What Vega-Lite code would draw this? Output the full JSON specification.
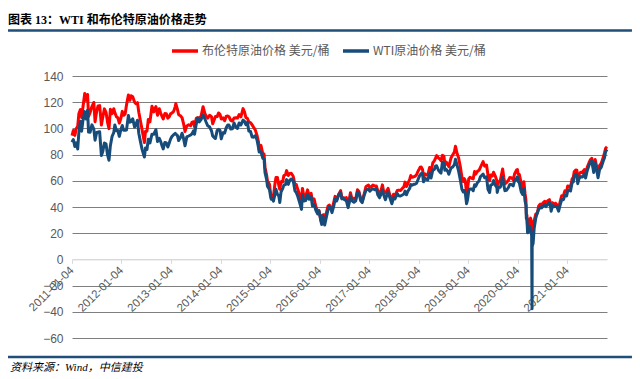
{
"$schema": "https://vega.github.io/schema/vega-lite/v6.json",
"autosize": "none",
"padding": {"left": 72, "top": 76, "right": 33, "bottom": 41},
"width": 535, "height": 262,
"config": {"view": {"stroke": null}, "font": "Liberation Sans", "axis": {"labelOverlap": false}},
"title": {"text": "图表 13：WTI 和布伦特原油价格走势", "anchor": "start", "frame": "group", "dx": -64, "fontSize": 12, "fontWeight": "bold", "font": "Liberation Serif, Noto Sans CJK SC", "color": "#000000", "offset": 2},
"layer": [
 {
  "data": {"values": [
{"d":"2011-01-04","b":94.5,"w":89.4},{"d":"2011-01-14","b":98.4,"w":91.5},{"d":"2011-01-25","b":94.7,"w":86.2},{"d":"2011-02-04","b":99.7,"w":89.0},{"d":"2011-02-15","b":101.6,"w":84.3},{"d":"2011-02-24","b":111.4,"w":97.3},{"d":"2011-03-07","b":114.4,"w":105.4},{"d":"2011-03-16","b":108.4,"w":97.9},{"d":"2011-03-25","b":115.6,"w":105.4},{"d":"2011-04-08","b":126.6,"w":112.8},{"d":"2011-04-18","b":121.6,"w":107.1},{"d":"2011-04-29","b":125.9,"w":113.9},{"d":"2011-05-06","b":109.1,"w":97.2},{"d":"2011-05-17","b":111.9,"w":97.0},{"d":"2011-05-31","b":116.7,"w":102.7},{"d":"2011-06-14","b":119.8,"w":99.4},{"d":"2011-06-23","b":105.1,"w":91.0},{"d":"2011-07-05","b":113.0,"w":96.9},{"d":"2011-07-15","b":117.2,"w":97.2},{"d":"2011-07-27","b":117.4,"w":97.4},{"d":"2011-08-09","b":102.6,"w":79.3},{"d":"2011-08-19","b":108.6,"w":82.3},{"d":"2011-08-31","b":114.9,"w":88.8},{"d":"2011-09-12","b":112.3,"w":88.2},{"d":"2011-09-23","b":104.8,"w":79.9},{"d":"2011-10-04","b":99.8,"w":75.7},{"d":"2011-10-14","b":114.6,"w":86.8},{"d":"2011-10-27","b":111.3,"w":94.0},{"d":"2011-11-08","b":115.0,"w":96.8},{"d":"2011-11-16","b":112.0,"w":102.6},{"d":"2011-11-28","b":108.9,"w":98.2},{"d":"2011-12-08","b":108.2,"w":98.3},{"d":"2011-12-19","b":104.0,"w":93.9},{"d":"2011-12-30","b":107.4,"w":98.8},
{"d":"2012-01-10","b":113.0,"w":102.2},{"d":"2012-01-20","b":110.0,"w":98.5},{"d":"2012-01-31","b":110.9,"w":98.5},{"d":"2012-02-10","b":117.9,"w":98.7},{"d":"2012-02-24","b":125.5,"w":109.8},{"d":"2012-03-06","b":121.5,"w":104.7},{"d":"2012-03-15","b":124.9,"w":105.1},{"d":"2012-03-27","b":124.1,"w":107.3},{"d":"2012-04-10","b":119.9,"w":101.0},{"d":"2012-04-20","b":118.8,"w":103.1},{"d":"2012-05-01","b":119.7,"w":106.2},{"d":"2012-05-11","b":112.3,"w":96.1},{"d":"2012-05-23","b":105.6,"w":89.9},{"d":"2012-06-04","b":98.9,"w":84.0},{"d":"2012-06-21","b":89.2,"w":78.2},{"d":"2012-06-29","b":97.8,"w":85.0},{"d":"2012-07-10","b":97.9,"w":83.9},{"d":"2012-07-20","b":106.8,"w":91.8},{"d":"2012-08-01","b":105.0,"w":88.9},{"d":"2012-08-16","b":116.9,"w":95.6},{"d":"2012-08-29","b":112.6,"w":95.5},{"d":"2012-09-14","b":116.7,"w":99.0},{"d":"2012-09-26","b":110.0,"w":90.0},{"d":"2012-10-09","b":115.0,"w":92.4},{"d":"2012-10-19","b":111.7,"w":90.1},{"d":"2012-10-31","b":108.7,"w":86.2},{"d":"2012-11-07","b":107.2,"w":84.4},{"d":"2012-11-19","b":111.3,"w":89.3},{"d":"2012-11-30","b":111.2,"w":88.9},{"d":"2012-12-11","b":107.8,"w":85.8},{"d":"2012-12-21","b":108.9,"w":88.7},{"d":"2012-12-31","b":111.1,"w":91.8},
{"d":"2013-01-10","b":111.7,"w":93.8},{"d":"2013-01-23","b":113.0,"w":95.2},{"d":"2013-02-04","b":116.8,"w":96.2},{"d":"2013-02-08","b":118.9,"w":95.7},{"d":"2013-02-20","b":114.5,"w":94.5},{"d":"2013-03-01","b":110.4,"w":90.7},{"d":"2013-03-14","b":109.6,"w":93.0},{"d":"2013-03-26","b":108.2,"w":96.3},{"d":"2013-04-05","b":104.1,"w":92.7},{"d":"2013-04-17","b":97.7,"w":86.7},{"d":"2013-04-30","b":101.9,"w":93.5},{"d":"2013-05-14","b":102.8,"w":94.2},{"d":"2013-05-28","b":102.0,"w":95.0},{"d":"2013-06-07","b":104.6,"w":95.8},{"d":"2013-06-19","b":105.1,"w":98.2},{"d":"2013-06-26","b":101.3,"w":95.5},{"d":"2013-07-09","b":107.8,"w":103.5},{"d":"2013-07-19","b":108.1,"w":108.0},{"d":"2013-07-31","b":107.7,"w":105.0},{"d":"2013-08-13","b":109.3,"w":106.8},{"d":"2013-08-28","b":116.6,"w":110.1},{"d":"2013-09-10","b":111.5,"w":107.4},{"d":"2013-09-20","b":109.2,"w":104.7},{"d":"2013-10-01","b":107.9,"w":102.0},{"d":"2013-10-15","b":110.0,"w":101.2},{"d":"2013-10-29","b":109.0,"w":98.2},{"d":"2013-11-07","b":103.5,"w":94.2},{"d":"2013-11-19","b":106.9,"w":93.0},{"d":"2013-11-27","b":109.0,"w":92.3},{"d":"2013-12-10","b":109.0,"w":98.5},{"d":"2013-12-20","b":111.8,"w":99.3},{"d":"2013-12-31","b":110.8,"w":98.4},
{"d":"2014-01-09","b":107.2,"w":92.0},{"d":"2014-01-22","b":108.0,"w":96.7},{"d":"2014-02-03","b":105.8,"w":96.4},{"d":"2014-02-14","b":109.1,"w":100.3},{"d":"2014-02-26","b":109.5,"w":102.6},{"d":"2014-03-07","b":108.9,"w":102.6},{"d":"2014-03-20","b":106.2,"w":99.5},{"d":"2014-04-01","b":105.6,"w":99.7},{"d":"2014-04-14","b":107.9,"w":104.1},{"d":"2014-04-28","b":108.1,"w":100.8},{"d":"2014-05-09","b":107.9,"w":100.0},{"d":"2014-05-21","b":110.5,"w":104.1},{"d":"2014-06-03","b":108.8,"w":102.7},{"d":"2014-06-19","b":115.1,"w":106.4},{"d":"2014-06-30","b":112.4,"w":105.4},{"d":"2014-07-10","b":108.2,"w":102.9},{"d":"2014-07-21","b":107.6,"w":104.6},{"d":"2014-08-01","b":104.8,"w":97.9},{"d":"2014-08-13","b":104.4,"w":97.6},{"d":"2014-08-25","b":102.7,"w":93.4},{"d":"2014-09-05","b":100.8,"w":93.3},{"d":"2014-09-17","b":98.9,"w":94.4},{"d":"2014-09-30","b":94.7,"w":91.2},{"d":"2014-10-10","b":90.2,"w":85.8},{"d":"2014-10-16","b":83.8,"w":82.0},{"d":"2014-10-29","b":87.1,"w":82.2},{"d":"2014-11-12","b":80.4,"w":77.2},{"d":"2014-11-21","b":80.4,"w":76.5},{"d":"2014-11-28","b":70.2,"w":66.2},{"d":"2014-12-10","b":64.2,"w":60.9},{"d":"2014-12-16","b":59.9,"w":55.9},{"d":"2014-12-31","b":57.3,"w":53.3},
{"d":"2015-01-07","b":51.2,"w":48.7},{"d":"2015-01-13","b":46.6,"w":45.9},{"d":"2015-01-20","b":48.0,"w":46.4},{"d":"2015-01-29","b":48.1,"w":44.5},{"d":"2015-02-10","b":58.3,"w":50.0},{"d":"2015-02-17","b":62.5,"w":53.5},{"d":"2015-02-27","b":62.6,"w":49.8},{"d":"2015-03-10","b":56.4,"w":48.3},{"d":"2015-03-17","b":53.5,"w":43.5},{"d":"2015-03-26","b":59.2,"w":51.4},{"d":"2015-04-07","b":59.1,"w":54.0},{"d":"2015-04-16","b":64.0,"w":56.7},{"d":"2015-04-28","b":64.6,"w":57.1},{"d":"2015-05-06","b":67.8,"w":60.9},{"d":"2015-05-19","b":64.0,"w":57.3},{"d":"2015-05-29","b":65.6,"w":60.3},{"d":"2015-06-10","b":65.7,"w":61.4},{"d":"2015-06-24","b":63.5,"w":60.3},{"d":"2015-07-07","b":56.9,"w":52.3},{"d":"2015-07-17","b":57.1,"w":50.9},{"d":"2015-07-28","b":53.3,"w":48.0},{"d":"2015-08-11","b":49.2,"w":43.1},{"d":"2015-08-24","b":42.7,"w":38.2},{"d":"2015-08-31","b":54.2,"w":49.2},{"d":"2015-09-11","b":48.1,"w":44.6},{"d":"2015-09-24","b":48.2,"w":44.9},{"d":"2015-10-08","b":53.1,"w":49.4},{"d":"2015-10-19","b":48.6,"w":45.9},{"d":"2015-11-03","b":50.5,"w":47.9},{"d":"2015-11-13","b":44.5,"w":40.7},{"d":"2015-11-25","b":46.2,"w":42.0},{"d":"2015-12-08","b":40.3,"w":37.5},{"d":"2015-12-21","b":36.4,"w":34.7},{"d":"2015-12-31","b":37.3,"w":37.0},
{"d":"2016-01-07","b":33.8,"w":33.3},{"d":"2016-01-12","b":30.9,"w":30.4},{"d":"2016-01-20","b":27.9,"w":26.6},{"d":"2016-01-28","b":33.9,"w":33.2},{"d":"2016-02-05","b":34.1,"w":30.9},{"d":"2016-02-11","b":30.1,"w":26.2},{"d":"2016-02-22","b":34.7,"w":31.5},{"d":"2016-03-07","b":40.8,"w":37.9},{"d":"2016-03-17","b":41.5,"w":40.2},{"d":"2016-03-29","b":38.3,"w":38.3},{"d":"2016-04-05","b":37.9,"w":35.7},{"d":"2016-04-19","b":43.9,"w":41.1},{"d":"2016-04-28","b":48.1,"w":46.0},{"d":"2016-05-10","b":45.5,"w":44.7},{"d":"2016-05-25","b":49.7,"w":49.6},{"d":"2016-06-08","b":52.5,"w":51.2},{"d":"2016-06-16","b":47.2,"w":46.2},{"d":"2016-06-27","b":47.2,"w":46.3},{"d":"2016-07-08","b":46.8,"w":45.4},{"d":"2016-07-20","b":47.2,"w":44.9},{"d":"2016-08-02","b":42.1,"w":39.5},{"d":"2016-08-11","b":46.0,"w":43.5},{"d":"2016-08-19","b":50.9,"w":48.5},{"d":"2016-08-31","b":46.0,"w":44.7},{"d":"2016-09-14","b":46.6,"w":43.6},{"d":"2016-09-27","b":46.0,"w":44.7},{"d":"2016-10-10","b":53.1,"w":51.4},{"d":"2016-10-21","b":51.8,"w":50.9},{"d":"2016-11-03","b":46.4,"w":44.7},{"d":"2016-11-14","b":44.4,"w":43.3},{"d":"2016-11-30","b":50.5,"w":49.4},{"d":"2016-12-12","b":55.7,"w":52.8},{"d":"2016-12-30","b":56.8,"w":53.7},
{"d":"2017-01-09","b":54.9,"w":52.0},{"d":"2017-01-20","b":55.5,"w":53.2},{"d":"2017-02-01","b":56.8,"w":53.9},{"d":"2017-02-14","b":56.0,"w":53.2},{"d":"2017-02-27","b":56.0,"w":54.1},{"d":"2017-03-09","b":52.2,"w":49.3},{"d":"2017-03-22","b":50.6,"w":47.0},{"d":"2017-04-03","b":53.1,"w":50.2},{"d":"2017-04-12","b":56.9,"w":53.1},{"d":"2017-04-21","b":52.0,"w":49.6},{"d":"2017-05-04","b":50.8,"w":45.5},{"d":"2017-05-11","b":51.8,"w":47.8},{"d":"2017-05-24","b":54.2,"w":51.4},{"d":"2017-06-05","b":49.5,"w":47.4},{"d":"2017-06-21","b":44.8,"w":42.5},{"d":"2017-07-03","b":49.7,"w":47.1},{"d":"2017-07-13","b":48.4,"w":46.1},{"d":"2017-07-31","b":52.7,"w":50.2},{"d":"2017-08-10","b":52.9,"w":48.6},{"d":"2017-08-23","b":52.6,"w":48.4},{"d":"2017-09-06","b":54.2,"w":49.2},{"d":"2017-09-18","b":55.5,"w":49.9},{"d":"2017-09-26","b":59.0,"w":52.1},{"d":"2017-10-06","b":55.6,"w":49.3},{"d":"2017-10-17","b":57.9,"w":52.0},{"d":"2017-10-31","b":61.4,"w":54.4},{"d":"2017-11-07","b":64.0,"w":57.2},{"d":"2017-11-17","b":62.7,"w":56.6},{"d":"2017-11-29","b":63.1,"w":57.3},{"d":"2017-12-08","b":63.4,"w":57.4},{"d":"2017-12-20","b":64.6,"w":58.1},{"d":"2017-12-29","b":66.9,"w":60.4},
{"d":"2018-01-10","b":69.2,"w":63.6},{"d":"2018-01-15","b":70.3,"w":64.3},{"d":"2018-01-24","b":70.5,"w":65.6},{"d":"2018-02-02","b":68.6,"w":65.5},{"d":"2018-02-09","b":62.8,"w":59.2},{"d":"2018-02-20","b":65.3,"w":61.9},{"d":"2018-03-02","b":64.4,"w":61.3},{"d":"2018-03-13","b":64.6,"w":60.7},{"d":"2018-03-26","b":70.1,"w":65.6},{"d":"2018-04-06","b":67.1,"w":62.1},{"d":"2018-04-19","b":73.8,"w":68.3},{"d":"2018-04-30","b":75.2,"w":68.6},{"d":"2018-05-10","b":77.5,"w":71.4},{"d":"2018-05-17","b":79.3,"w":71.5},{"d":"2018-05-30","b":77.5,"w":68.2},{"d":"2018-06-12","b":76.3,"w":66.4},{"d":"2018-06-18","b":75.3,"w":65.9},{"d":"2018-06-29","b":79.4,"w":74.2},{"d":"2018-07-10","b":78.9,"w":73.8},{"d":"2018-07-17","b":72.0,"w":68.1},{"d":"2018-07-27","b":74.3,"w":68.7},{"d":"2018-08-08","b":72.3,"w":66.9},{"d":"2018-08-15","b":70.8,"w":65.0},{"d":"2018-08-31","b":77.4,"w":69.8},{"d":"2018-09-12","b":79.7,"w":70.4},{"d":"2018-09-25","b":81.9,"w":72.3},{"d":"2018-10-03","b":86.3,"w":76.4},{"d":"2018-10-15","b":80.8,"w":71.8},{"d":"2018-10-26","b":77.6,"w":67.6},{"d":"2018-11-08","b":70.7,"w":60.7},{"d":"2018-11-20","b":62.5,"w":53.4},{"d":"2018-11-29","b":59.5,"w":51.5},{"d":"2018-12-07","b":61.7,"w":52.6},{"d":"2018-12-14","b":60.3,"w":51.2},{"d":"2018-12-24","b":50.5,"w":42.5},{"d":"2018-12-31","b":53.8,"w":45.4},
{"d":"2019-01-09","b":61.4,"w":52.4},{"d":"2019-01-18","b":62.7,"w":53.8},{"d":"2019-01-31","b":61.9,"w":53.8},{"d":"2019-02-11","b":61.5,"w":52.4},{"d":"2019-02-21","b":67.1,"w":57.0},{"d":"2019-03-01","b":65.1,"w":55.8},{"d":"2019-03-14","b":67.2,"w":58.6},{"d":"2019-03-26","b":68.0,"w":59.9},{"d":"2019-04-05","b":70.3,"w":63.1},{"d":"2019-04-25","b":74.6,"w":65.2},{"d":"2019-05-06","b":71.2,"w":62.3},{"d":"2019-05-20","b":72.0,"w":63.1},{"d":"2019-05-31","b":64.5,"w":53.5},{"d":"2019-06-12","b":60.0,"w":51.1},{"d":"2019-06-20","b":64.5,"w":56.7},{"d":"2019-07-03","b":63.8,"w":57.3},{"d":"2019-07-11","b":66.5,"w":60.2},{"d":"2019-07-23","b":63.8,"w":56.8},{"d":"2019-08-05","b":59.8,"w":54.7},{"d":"2019-08-07","b":56.2,"w":51.1},{"d":"2019-08-16","b":58.6,"w":54.9},{"d":"2019-08-30","b":60.4,"w":55.1},{"d":"2019-09-16","b":69.0,"w":62.9},{"d":"2019-09-25","b":62.4,"w":56.5},{"d":"2019-10-03","b":57.7,"w":52.5},{"d":"2019-10-15","b":58.7,"w":52.8},{"d":"2019-10-30","b":60.6,"w":55.1},{"d":"2019-11-08","b":62.5,"w":57.2},{"d":"2019-11-20","b":62.4,"w":57.1},{"d":"2019-12-03","b":60.8,"w":56.1},{"d":"2019-12-13","b":65.2,"w":60.1},{"d":"2019-12-27","b":68.2,"w":61.7},
{"d":"2020-01-03","b":68.6,"w":63.1},{"d":"2020-01-08","b":65.4,"w":59.6},{"d":"2020-01-17","b":64.9,"w":58.5},{"d":"2020-01-31","b":58.2,"w":51.6},{"d":"2020-02-10","b":53.3,"w":49.6},{"d":"2020-02-20","b":59.3,"w":53.8},{"d":"2020-02-28","b":50.5,"w":44.8},{"d":"2020-03-06","b":45.3,"w":41.3},{"d":"2020-03-09","b":34.4,"w":31.1},{"d":"2020-03-13","b":33.9,"w":31.7},{"d":"2020-03-18","b":24.9,"w":20.4},{"d":"2020-03-27","b":24.9,"w":21.5},{"d":"2020-04-02","b":29.9,"w":25.3},{"d":"2020-04-09","b":31.5,"w":22.8},{"d":"2020-04-17","b":28.1,"w":18.3},{"d":"2020-04-20","b":25.6,"w":-37.6},{"d":"2020-04-21","b":19.3,"w":10.0},{"d":"2020-04-28","b":20.5,"w":12.3},{"d":"2020-05-06","b":29.7,"w":24.0},{"d":"2020-05-18","b":34.8,"w":31.8},{"d":"2020-05-29","b":35.3,"w":35.5},{"d":"2020-06-08","b":40.8,"w":38.2},{"d":"2020-06-19","b":42.2,"w":39.8},{"d":"2020-06-30","b":41.2,"w":39.3},{"d":"2020-07-10","b":43.2,"w":40.6},{"d":"2020-07-22","b":44.3,"w":41.9},{"d":"2020-07-31","b":43.3,"w":40.3},{"d":"2020-08-14","b":44.8,"w":42.0},{"d":"2020-08-26","b":45.6,"w":43.4},{"d":"2020-09-04","b":42.7,"w":39.8},{"d":"2020-09-08","b":39.8,"w":36.8},{"d":"2020-09-18","b":43.2,"w":41.1},{"d":"2020-09-30","b":41.0,"w":40.2},{"d":"2020-10-09","b":42.9,"w":40.6},{"d":"2020-10-21","b":41.7,"w":40.0},{"d":"2020-11-02","b":39.0,"w":36.8},{"d":"2020-11-12","b":43.5,"w":41.1},{"d":"2020-11-25","b":48.6,"w":45.7},{"d":"2020-12-08","b":48.8,"w":45.6},{"d":"2020-12-18","b":52.3,"w":49.1},{"d":"2020-12-31","b":51.8,"w":48.5},
{"d":"2021-01-08","b":56.0,"w":52.2},{"d":"2021-01-19","b":55.9,"w":53.0},{"d":"2021-01-29","b":55.0,"w":52.2},{"d":"2021-02-09","b":61.1,"w":58.4},{"d":"2021-02-19","b":62.9,"w":59.2},{"d":"2021-02-25","b":66.9,"w":63.5},{"d":"2021-03-08","b":68.2,"w":65.1},{"d":"2021-03-17","b":68.0,"w":64.6},{"d":"2021-03-23","b":60.8,"w":57.8},{"d":"2021-04-01","b":64.9,"w":61.5},{"d":"2021-04-14","b":66.6,"w":63.2},{"d":"2021-04-27","b":66.4,"w":62.9},{"d":"2021-05-11","b":68.6,"w":65.3},{"d":"2021-05-20","b":65.1,"w":62.1},{"d":"2021-06-01","b":70.3,"w":67.7},{"d":"2021-06-15","b":74.0,"w":72.1},{"d":"2021-06-25","b":76.2,"w":74.1},{"d":"2021-07-05","b":77.2,"w":75.2},{"d":"2021-07-19","b":68.6,"w":66.4},{"d":"2021-07-30","b":76.3,"w":74.0},{"d":"2021-08-10","b":70.6,"w":68.3},{"d":"2021-08-20","b":65.2,"w":62.3},{"d":"2021-08-31","b":71.6,"w":68.5},{"d":"2021-09-13","b":73.5,"w":70.5},{"d":"2021-09-28","b":78.1,"w":75.3},{"d":"2021-10-06","b":81.1,"w":77.4},{"d":"2021-10-15","b":84.9,"w":82.3},{"d":"2021-10-25","b":86.0,"w":84.0}
  ]},
  "transform": [{"fold": ["b", "w"], "as": ["k", "v"]}],
  "mark": {"type": "line", "strokeWidth": 3, "strokeJoin": "round"},
  "encoding": {
   "x": {"field": "d", "type": "temporal",
     "scale": {"type": "utc", "domain": [{"year": 2011, "month": 1, "date": 4, "utc": true}, {"year": 2021, "month": 10, "date": 25, "utc": true}]},
     "axis": {"title": null, "format": "%Y-%m-%d",
       "values": [{"year": 2011, "month": 1, "date": 4, "utc": true},{"year": 2012, "month": 1, "date": 4, "utc": true},{"year": 2013, "month": 1, "date": 4, "utc": true},{"year": 2014, "month": 1, "date": 4, "utc": true},{"year": 2015, "month": 1, "date": 4, "utc": true},{"year": 2016, "month": 1, "date": 4, "utc": true},{"year": 2017, "month": 1, "date": 4, "utc": true},{"year": 2018, "month": 1, "date": 4, "utc": true},{"year": 2019, "month": 1, "date": 4, "utc": true},{"year": 2020, "month": 1, "date": 4, "utc": true},{"year": 2021, "month": 1, "date": 4, "utc": true}],
       "labelAngle": -45, "labelAlign": "right", "labelBaseline": "middle", "labelPadding": 5, "tickSize": 4,
       "tickColor": "#D9D9D9", "domainColor": "#D9D9D9", "offset": -78.6, "grid": false,
       "labelColor": "#595959", "labelFontSize": 11.5, "labelFont": "Liberation Sans",
       "labelOverlap": false, "labelFlush": false, "labelBound": false}},
   "y": {"field": "v", "type": "quantitative",
     "scale": {"domain": [-60, 140], "nice": false, "zero": false},
     "axis": {"title": null, "values": [-60, -40, -20, 0, 20, 40, 60, 80, 100, 120, 140],
       "grid": true, "gridColor": {"condition": {"test": "datum.value === 0", "value": "#D9D9D9"}, "value": "#7F7F7F"},
       "domain": false, "ticks": false, "labelPadding": 9, "labelColor": "#595959",
       "labelFontSize": 12, "labelFont": "Liberation Sans", "labelOverlap": false, "labelFlush": false, "labelBound": false}},
   "color": {"field": "k", "type": "nominal",
     "scale": {"domain": ["b", "w"], "range": ["#FF0000", "#164B7A"]},
     "legend": {"orient": "none", "legendX": 98, "legendY": -40, "direction": "horizontal", "title": null,
       "symbolType": "stroke", "symbolSize": 676, "symbolStrokeWidth": 3.5,
       "labelExpr": "datum.value === 'b' ? '布伦特原油价格 美元/桶' : 'WTI原油价格 美元/桶'",
       "labelFont": "Noto Sans CJK SC", "labelFontSize": 12, "labelColor": "#595959",
       "labelOffset": 2, "columnPadding": 6, "labelLimit": 300}}
  }
 },
 {
  "data": {"values": [{}]},
  "mark": {"type": "rule", "color": "#1F4E79", "strokeWidth": 2.5},
  "encoding": {
   "x": {"datum": {"year": 2009, "month": 9, "date": 19, "utc": true}, "type": "temporal"},
   "x2": {"datum": {"year": 2022, "month": 4, "date": 27, "utc": true}},
   "y": {"datum": 174.7, "type": "quantitative",
     "axis": {"title": null, "values": [-60, -40, -20, 0, 20, 40, 60, 80, 100, 120, 140],
       "grid": true, "gridColor": {"condition": {"test": "datum.value === 0", "value": "#D9D9D9"}, "value": "#7F7F7F"},
       "domain": false, "ticks": false, "labelPadding": 9, "labelColor": "#595959",
       "labelFontSize": 12, "labelFont": "Liberation Sans", "labelOverlap": false, "labelFlush": false, "labelBound": false}}
  }
 },
 {
  "data": {"values": [{}]},
  "mark": {"type": "rule", "color": "#1F4E79", "strokeWidth": 2.5},
  "encoding": {
   "x": {"datum": {"year": 2009, "month": 9, "date": 19, "utc": true}, "type": "temporal"},
   "x2": {"datum": {"year": 2022, "month": 4, "date": 27, "utc": true}},
   "y": {"datum": -74.5, "type": "quantitative",
     "axis": {"title": null, "values": [-60, -40, -20, 0, 20, 40, 60, 80, 100, 120, 140],
       "grid": true, "gridColor": {"condition": {"test": "datum.value === 0", "value": "#D9D9D9"}, "value": "#7F7F7F"},
       "domain": false, "ticks": false, "labelPadding": 9, "labelColor": "#595959",
       "labelFontSize": 12, "labelFont": "Liberation Sans", "labelOverlap": false, "labelFlush": false, "labelBound": false}}
  }
 },
 {
  "data": {"values": [{"t": "资料来源：Wind，中信建投"}]},
  "mark": {"type": "text", "align": "left", "baseline": "middle", "fontSize": 11, "fontStyle": "italic", "font": "Liberation Serif, Noto Sans CJK SC", "color": "#000000"},
  "encoding": {
   "x": {"datum": {"year": 2009, "month": 10, "date": 4, "utc": true}, "type": "temporal"},
   "y": {"datum": -82.9, "type": "quantitative",
     "axis": {"title": null, "values": [-60, -40, -20, 0, 20, 40, 60, 80, 100, 120, 140],
       "grid": true, "gridColor": {"condition": {"test": "datum.value === 0", "value": "#D9D9D9"}, "value": "#7F7F7F"},
       "domain": false, "ticks": false, "labelPadding": 9, "labelColor": "#595959",
       "labelFontSize": 12, "labelFont": "Liberation Sans", "labelOverlap": false, "labelFlush": false, "labelBound": false}},
   "text": {"field": "t"}
  }
 }
]
}
